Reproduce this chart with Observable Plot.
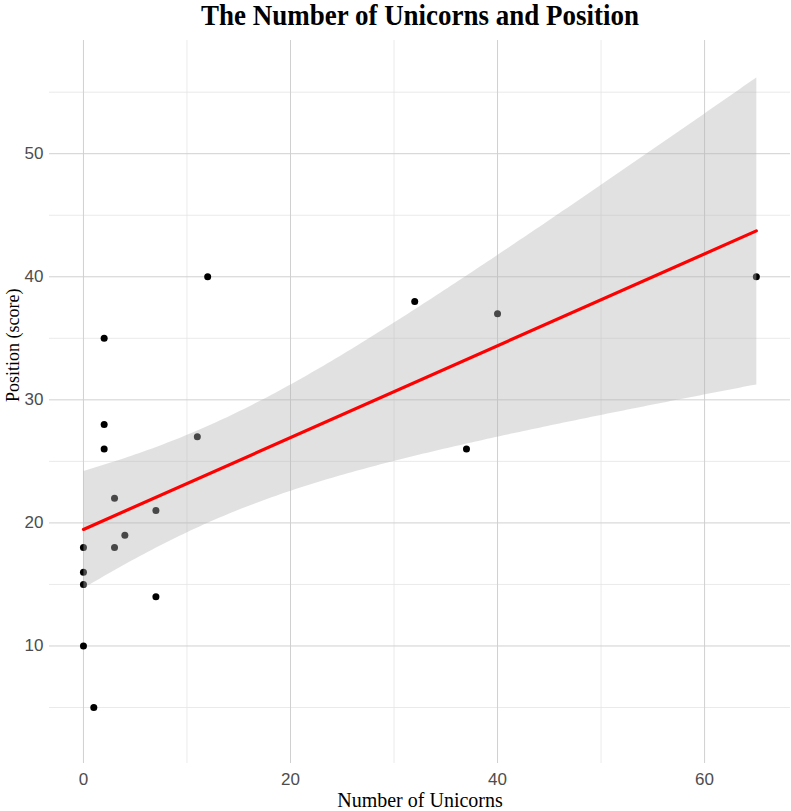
<!DOCTYPE html>
<html>
<head>
<meta charset="utf-8">
<script src="https://cdn.jsdelivr.net/npm/d3@7"></script>
<script src="https://cdn.jsdelivr.net/npm/@observablehq/plot@0.6"></script>
<style>
  html, body { margin: 0; padding: 0; background: #fff; overflow: hidden; }
  #title { height: 36px; width: 791px; position: relative; }
  #title span { position: absolute; left: 420px; top: 0px; line-height: 30px; transform: translateX(-50%) scaleX(0.93);
    font-family: "Liberation Serif", "Times New Roman", serif; font-weight: bold; font-size: 29px; white-space: nowrap; color: #000; }
</style>
</head>
<body>
<div id="title"><span>The Number of Unicorns and Position</span></div>
<div id="chart"></div>
<script>
const unicorns = [0, 0, 0, 0, 1, 2, 2, 2, 3, 3, 4, 7, 7, 11, 12, 32, 37, 40, 65];
const position = [18, 16, 15, 10, 5, 35, 28, 26, 22, 18, 19, 21, 14, 27, 40, 38, 26, 37, 40];
const xMajor = [0, 20, 40, 60];
const xMinor = [10, 30, 50];
const yMajor = [10, 20, 30, 40, 50];
const yMinor = [5, 15, 25, 35, 45, 55];

const data = unicorns.map((u, i) => ({unicorns: u, position: position[i]}));

const chart = Plot.plot({
  width: 791,
  height: 775,
  marginLeft: 49,
  marginRight: 1,
  marginTop: 4,
  marginBottom: 48,
  style: {fontFamily: "'Liberation Sans', Arial, sans-serif", background: "#fff"},
  x: {domain: [-3.28, 68.3]},
  y: {domain: [0.45, 59.2]},
  marks: [
    Plot.ruleX(xMinor, {stroke: "#e4e4e4", strokeWidth: 0.8}),
    Plot.ruleY(yMinor, {stroke: "#e4e4e4", strokeWidth: 0.8}),
    Plot.ruleX(xMajor, {stroke: "#d0d0d0", strokeWidth: 1}),
    Plot.ruleY(yMajor, {stroke: "#d0d0d0", strokeWidth: 1}),
    Plot.axisX(xMajor, {tickSize: 0, tickPadding: 9, fontSize: 17, fill: "#4d4d4d", label: null}),
    Plot.axisY(yMajor, {tickSize: 0, tickPadding: 6, fontSize: 17, fill: "#4d4d4d", label: null}),
    Plot.dot(data, {x: "unicorns", y: "position", r: 3.5, fill: "#000", stroke: "none"}),
    Plot.linearRegressionY(data, {x: "unicorns", y: "position", stroke: "red", strokeWidth: 3.2, fill: "#b5b5b5", fillOpacity: 0.4, ci: 0.95}),
    Plot.text(["Number of Unicorns"], {frameAnchor: "bottom", lineAnchor: "middle", dy: 37, fontSize: 20, fontFamily: "'Liberation Serif', serif", fill: "#000"}),
    Plot.text(["Position (score)"], {frameAnchor: "left", lineAnchor: "middle", rotate: -90, dx: -36, fontSize: 18, fontFamily: "'Liberation Serif', serif", fill: "#000"})
  ]
});
document.getElementById("chart").appendChild(chart);
</script>
</body>
</html>
